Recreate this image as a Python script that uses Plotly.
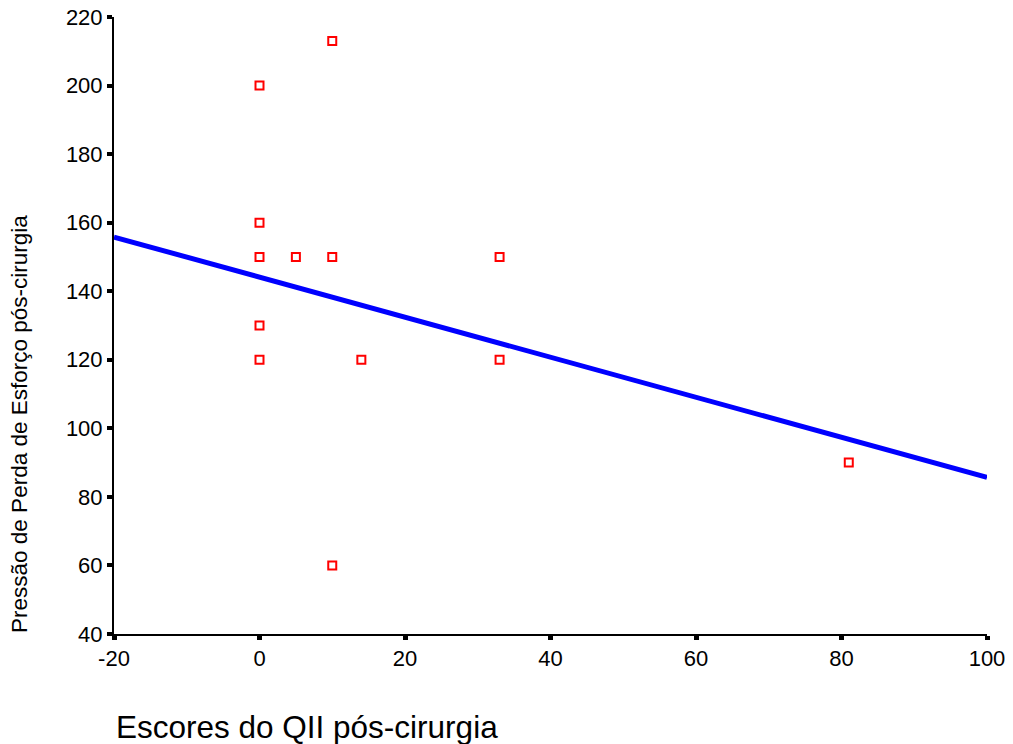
import plotly.graph_objects as go

# Data
qii_scores = [0, 10, 0, 0, 5, 10, 33, 0, 0, 14, 33, 81, 10]
pressure = [200, 213, 160, 150, 150, 150, 150, 130, 120, 120, 120, 90, 60]

fit_x = [-20, 100]
fit_y = [155.8, 85.7]

x_ticks = [-20, 0, 20, 40, 60, 80, 100]
y_ticks = [40, 60, 80, 100, 120, 140, 160, 180, 200, 220]

x_title = "Escores do QII pós-cirurgia"
y_title = "Pressão de Perda de Esforço pós-cirurgia"

FONT = "Liberation Sans, Arial, sans-serif"

fig = go.Figure()
fig.add_trace(go.Scatter(
    x=fit_x, y=fit_y, mode="lines",
    line=dict(color="#0000ff", width=5),
    hoverinfo="skip", showlegend=False,
))
fig.add_trace(go.Scatter(
    x=qii_scores, y=pressure, mode="markers",
    marker=dict(symbol="square-open", size=8, color="#ff0000",
                line=dict(color="#ff0000", width=2)),
    showlegend=False,
))

fig.update_layout(
    width=1013, height=744,
    margin=dict(l=114, r=26, t=17, b=110),
    paper_bgcolor="white", plot_bgcolor="white",
    font=dict(family=FONT, color="black", size=22),
    xaxis=dict(
        range=[-20, 100], tickvals=x_ticks, ticktext=[str(v) for v in x_ticks],
        showgrid=False, zeroline=False, showline=True, linecolor="black", linewidth=2,
        ticks="outside", ticklen=4, tickwidth=5, tickcolor="black",
        tickfont=dict(size=22, family=FONT), fixedrange=True, automargin=False,
    ),
    yaxis=dict(
        range=[40, 220], tickvals=y_ticks, ticktext=[str(v) for v in y_ticks],
        showgrid=False, zeroline=False, showline=True, linecolor="black", linewidth=2,
        ticks="outside", ticklen=5, tickwidth=4, tickcolor="black",
        tickfont=dict(size=22, family=FONT), fixedrange=True, automargin=False,
    ),
    annotations=[
        dict(text=x_title, xref="paper", yref="paper", x=0.0, y=-0.151,
             xanchor="left", yanchor="middle", showarrow=False,
             font=dict(size=31.5, family=FONT, color="black")),
        dict(text=y_title, xref="paper", yref="paper", x=-0.108, y=-0.002,
             xanchor="center", yanchor="bottom", textangle=-90, showarrow=False,
             font=dict(size=22.5, family=FONT, color="black")),
    ],
)

fig.write_html("out.html")
